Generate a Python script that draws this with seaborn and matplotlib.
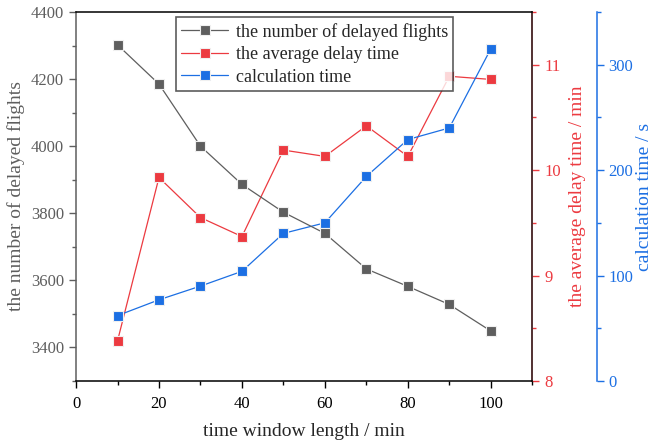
import pandas as pd
import matplotlib.pyplot as plt
import seaborn as sns
from matplotlib.ticker import MultipleLocator

# datos
window_len = [10, 20, 30, 40, 50, 60, 70, 80, 90, 100]
delayed_flights = [4302, 4185, 4000, 3886, 3803, 3740, 3634, 3582, 3528, 3449]
avg_delay = [8.38, 9.93, 9.55, 9.37, 10.19, 10.13, 10.42, 10.13, 10.89, 10.86]
calc_time = [62, 77, 90, 104, 140, 150, 194, 229, 240, 315]

GRAY = '#5e5e5e'
RED = '#ec3a40'
BLUE = '#1c6fe3'

sns.set_style('ticks')
plt.rcParams['font.family'] = ['Liberation Serif', 'DejaVu Serif']

df = pd.DataFrame({'x': window_len, 'n': delayed_flights,
                   'd': avg_delay, 't': calc_time})

fig = plt.figure(figsize=(6.56, 4.43), dpi=100)
ax = fig.add_axes([0.1159, 0.140, 0.6955, 0.833])
ax2 = ax.twinx()
ax3 = ax.twinx()
ax3.spines['right'].set_position(('axes', 1.141))

mk = dict(marker='s', markersize=7, markeredgecolor='#f0f0f0', markeredgewidth=0.8, linewidth=0.9)
sns.lineplot(data=df, x='x', y='n', ax=ax, color=GRAY, label='the number of delayed flights', legend=False, **mk)
sns.lineplot(data=df, x='x', y='d', ax=ax2, color=RED, label='the average delay time', legend=False, **mk)
sns.lineplot(data=df, x='x', y='t', ax=ax3, color=BLUE, label='calculation time', legend=False, **mk)

ax.set_xlim(0, 110)
ax.set_ylim(3300, 4400)
ax2.set_ylim(8, 11.5)
ax3.set_ylim(0, 350)

ax.set_xticks([0, 20, 40, 60, 80, 100])
ax.xaxis.set_minor_locator(MultipleLocator(10))
ax.set_yticks([3400, 3600, 3800, 4000, 4200, 4400])
ax.yaxis.set_minor_locator(MultipleLocator(100))
ax2.yaxis.set_major_locator(MultipleLocator(1))
ax2.yaxis.set_minor_locator(MultipleLocator(0.5))
ax3.yaxis.set_major_locator(MultipleLocator(100))
ax3.yaxis.set_minor_locator(MultipleLocator(50))

fs = 12
ax.set_xlabel('time window length / min', fontsize=14, labelpad=8)
ax.set_ylabel('the number of delayed flights', fontsize=14, color=GRAY, labelpad=4)
ax2.set_ylabel('the average delay time / min', fontsize=14, color=RED, labelpad=6)
ax3.set_ylabel('calculation time / s', fontsize=14, color=BLUE, labelpad=2)

for a in (ax, ax2, ax3):
    a.tick_params(which='major', direction='out', length=5, width=1, labelsize=fs)
    a.tick_params(which='minor', direction='out', length=3, width=1)
    for s in a.spines.values():
        s.set_linewidth(1.1)

ax.tick_params(axis='y', which='both', colors=GRAY)
ax.tick_params(axis='x', which='both', colors='black', labelcolor='black', pad=6)
ax.spines['left'].set_color(GRAY)
ax.spines['top'].set_color('black')
ax.spines['bottom'].set_color('black')

ax2.tick_params(axis='y', which='both', colors=RED)
ax2.spines['right'].set_color(RED)
ax3.tick_params(axis='y', which='both', colors=BLUE)
ax3.spines['right'].set_color(BLUE)
for side in ('top', 'left', 'bottom'):
    ax2.spines[side].set_visible(False)
    ax3.spines[side].set_visible(False)

handles = []
labels = []
for a in (ax, ax2, ax3):
    h, l = a.get_legend_handles_labels()
    handles += h
    labels += l
leg = ax.legend(handles, labels, loc='upper left', bbox_to_anchor=(0.219, 0.985),
                fontsize=13, frameon=True, fancybox=False, edgecolor='#333333',
                borderpad=0.3, labelspacing=0.3, handlelength=2.6, handletextpad=0.4,
                borderaxespad=0)
leg.get_frame().set_linewidth(1.2)
ax.set_zorder(ax3.get_zorder() + 1)
ax.patch.set_visible(False)
leg.set_zorder(10)

fig.savefig('out.png', dpi=100)
